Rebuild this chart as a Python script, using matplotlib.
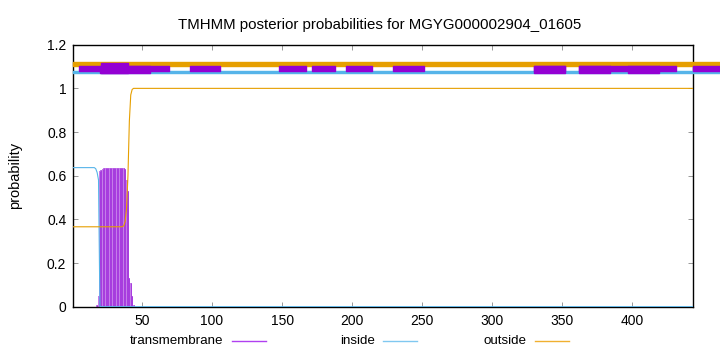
import numpy as np
import matplotlib
matplotlib.use("Agg")
import matplotlib.pyplot as plt
from matplotlib.lines import Line2D

plt.rcParams["font.family"] = ["Liberation Sans", "DejaVu Sans"]

# ── data ────────────────────────────────────────────────────────────────────
seq_len = 443

# inside probability (change points, flat elsewhere)
inside_x = [1, 16, 17, 18, 19, 20, 443]
inside_y = [0.637, 0.637, 0.632, 0.615, 0.58, 0.0, 0.0]

# outside probability
outside_x = [1, 35, 36, 37, 38, 39, 40, 41, 42, 43, 44, 443]
outside_y = [0.366, 0.366, 0.367, 0.37, 0.39, 0.45, 0.60, 0.85, 0.97, 0.995, 1.0, 1.0]

# transmembrane probability, drawn as impulses per residue
tm_x = list(range(18, 45))
tm_y = [0.01, 0.05, 0.62, 0.628, 0.632,
        0.634, 0.634, 0.634, 0.634, 0.634, 0.634, 0.634, 0.634,
        0.634, 0.634, 0.634, 0.634, 0.634, 0.634, 0.634,
        0.63, 0.58, 0.53, 0.13, 0.11, 0.05, 0.01]

# top bands (predicted topology)
outside_band = (1, 470)
inside_band = (1, 470)
tm_band_start = [5, 84, 148, 171, 195.5, 229, 330, 362, 384, 397, 419, 443.5]
tm_band_end = [69, 106, 167, 188, 214, 251, 352, 384, 397, 419, 431, 470]
tm_low_start = [20, 330, 362, 397]
tm_low_end = [55.5, 352, 384, 419]
tm_high_start = [20.5]
tm_high_end = [40]

x_ticks = [50, 100, 150, 200, 250, 300, 350, 400]
y_ticks = [0, 0.2, 0.4, 0.6, 0.8, 1.0, 1.2]
y_tick_labels = ["0", "0.2", "0.4", "0.6", "0.8", "1", "1.2"]

c_tm = "#9400D3"
c_in = "#56B4E9"
c_out = "#E69F00"

fig = plt.figure(figsize=(7.2, 3.52), dpi=100)
ax = fig.add_axes([73.3 / 720, 1 - 306.7 / 352, (692.7 - 73.3) / 720, (306.7 - 44.7) / 352])

# bands above the plot (not clipped, like gnuplot arrows)
ax.broken_barh([(outside_band[0], outside_band[1] - outside_band[0])], (1.102, 0.019),
               color=c_out, clip_on=False, zorder=3)
ax.broken_barh([(inside_band[0], inside_band[1] - inside_band[0])], (1.069, 0.010),
               color=c_in, clip_on=False, zorder=3)
ax.broken_barh([(s, e - s) for s, e in zip(tm_band_start, tm_band_end)], (1.079, 0.025),
               color=c_tm, clip_on=False, zorder=4)
ax.broken_barh([(s, e - s) for s, e in zip(tm_low_start, tm_low_end)], (1.069, 0.035),
               color=c_tm, clip_on=False, zorder=4)
ax.broken_barh([(s, e - s) for s, e in zip(tm_high_start, tm_high_end)], (1.069, 0.046),
               color=c_tm, clip_on=False, zorder=4)

# curves: impulses drawn wide and light, with a darker thin core (gnuplot look)
ax.vlines(tm_x, 0, tm_y, color="#c47ae9", linewidth=1.4, zorder=2)
ax.vlines(tm_x, 0, tm_y, color="#a232dc", linewidth=0.6, zorder=2)
ax.plot(inside_x, inside_y, color=c_in, linewidth=0.8, zorder=3)
ax.plot(outside_x, outside_y, color=c_out, linewidth=0.8, zorder=3)

ax.set_xlim(1, seq_len)
ax.set_ylim(0, 1.2)
ax.set_xticks(x_ticks)
ax.set_yticks(y_ticks)
ax.set_yticklabels(y_tick_labels)
ax.tick_params(direction="in", length=3.5, width=0.6, top=True, right=True,
               labelsize=10, pad=5, colors="#000000")
ax.tick_params(axis="both", which="both", color="#888888")
for spine in ax.spines.values():
    spine.set_linewidth(1.0)
    spine.set_color("#000000")

ax.set_ylabel("probability", fontsize=10.5)
ax.yaxis.set_label_coords(-(73.3 - 22) / (692.7 - 73.3), 0.5)
fig.text(380 / 720, 1 - 25 / 352, "TMHMM posterior probabilities for MGYG000002904_01605",
         ha="center", va="center", fontsize=10.8)

# legend below the plot, gnuplot style
legend_items = [("transmembrane", 223, 232, 266, "#b040f0"),
                ("inside", 375, 383, 417, "#80c8f0"),
                ("outside", 527, 535, 569, "#f0b030")]
ly = 1 - 340.7 / 352
for label, tx, x0, x1, col in legend_items:
    fig.text(tx / 720, ly, label, ha="right", va="center", fontsize=9.6)
    fig.add_artist(Line2D([x0 / 720, x1 / 720], [ly, ly], color=col, linewidth=1.0,
                          transform=fig.transFigure))

fig.savefig("out.png", dpi=100)
